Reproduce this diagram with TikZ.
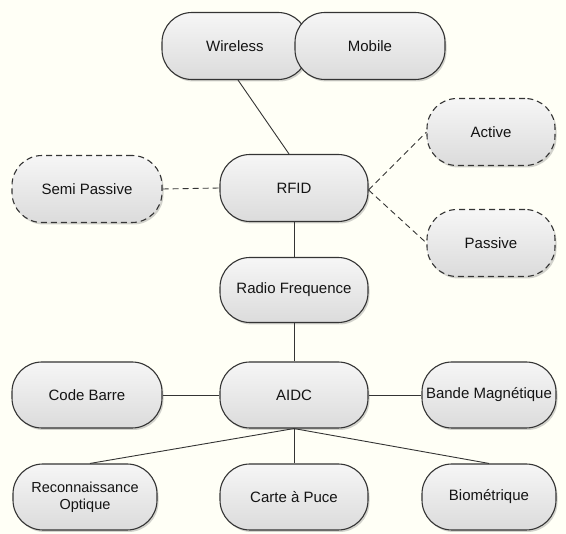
\documentclass[tikz,border=0pt]{standalone}
\usepackage{fontspec}
\setmainfont{Liberation Sans}
\usetikzlibrary{shadows}
\definecolor{bg}{HTML}{FFFFF6}
\definecolor{edge}{HTML}{343434}
\definecolor{txt}{HTML}{141414}
\tikzset{
  box/.style={draw=edge, line width=1.1pt, rounded corners=30pt,
    top color=gray!7, bottom color=gray!28,
    drop shadow={shadow xshift=1.5pt, shadow yshift=-2pt, opacity=0.35, fill=gray},
    minimum height=67pt, inner sep=0pt, align=center, text=txt,
    font=\fontsize{15}{17}\selectfont},
  dbox/.style={box, dash pattern=on 6pt off 4pt},
  link/.style={draw=edge, line width=0.9pt},
  dlink/.style={link, dash pattern=on 6pt off 4pt}
}
\begin{document}
\begin{tikzpicture}[x=1pt,y=-1pt]
\fill[bg] (0,0) rectangle (566,534);
\useasboundingbox (0,0) rectangle (566,534);
% nodes
\node[box, minimum width=146pt] (wl) at (235,46) {Wireless};
\node[box, minimum width=150pt] (mob) at (370,46) {Mobile};
\node[box, minimum width=148pt] (rfid) at (294,188) {RFID};
\node[dbox, minimum width=150pt] (sp) at (87,189) {Semi Passive};
\node[dbox, minimum width=128pt] (act) at (491,132) {Active};
\node[dbox, minimum width=128pt] (pas) at (491,243) {Passive};
\node[box, minimum width=148pt, minimum height=65pt] (rf) at (294,290) {Radio Frequence};
\node[box, minimum width=148pt, minimum height=66pt] (aidc) at (294,395) {AIDC};
\node[box, minimum width=150pt, minimum height=66pt] (cb) at (87,395) {Code Barre};
\node[box, minimum width=134pt, minimum height=66pt] (bm) at (489,395) {Bande Magnétique};
\node[box, minimum width=144pt, minimum height=66pt, font=\fontsize{14.5}{17}\selectfont] (ro) at (85,497) {Reconnaissance\\Optique};
\node[box, minimum width=148pt, minimum height=66pt] (cp) at (294,497) {Carte à Puce};
\node[box, minimum width=134pt, minimum height=66pt] (bio) at (489,497) {Biométrique};
% connectors
\draw[link] ([xshift=3pt]wl.south) -- ([xshift=-5pt]rfid.north);
\draw[dlink] (sp.east) -- (rfid.west);
\draw[dlink] ([yshift=-2pt]rfid.east) -- (act.west);
\draw[dlink] ([yshift=-2pt]rfid.east) -- (pas.west);
\draw[link] (rfid.south) -- (rf.north);
\draw[link] (rf.south) -- (aidc.north);
\draw[link] (cb.east) -- (aidc.west);
\draw[link] (aidc.east) -- (bm.west);
\draw[link] (aidc.south) -- ([xshift=5pt]ro.north);
\draw[link] (aidc.south) -- (cp.north);
\draw[link] (aidc.south) -- (bio.north);
\end{tikzpicture}
\end{document}
